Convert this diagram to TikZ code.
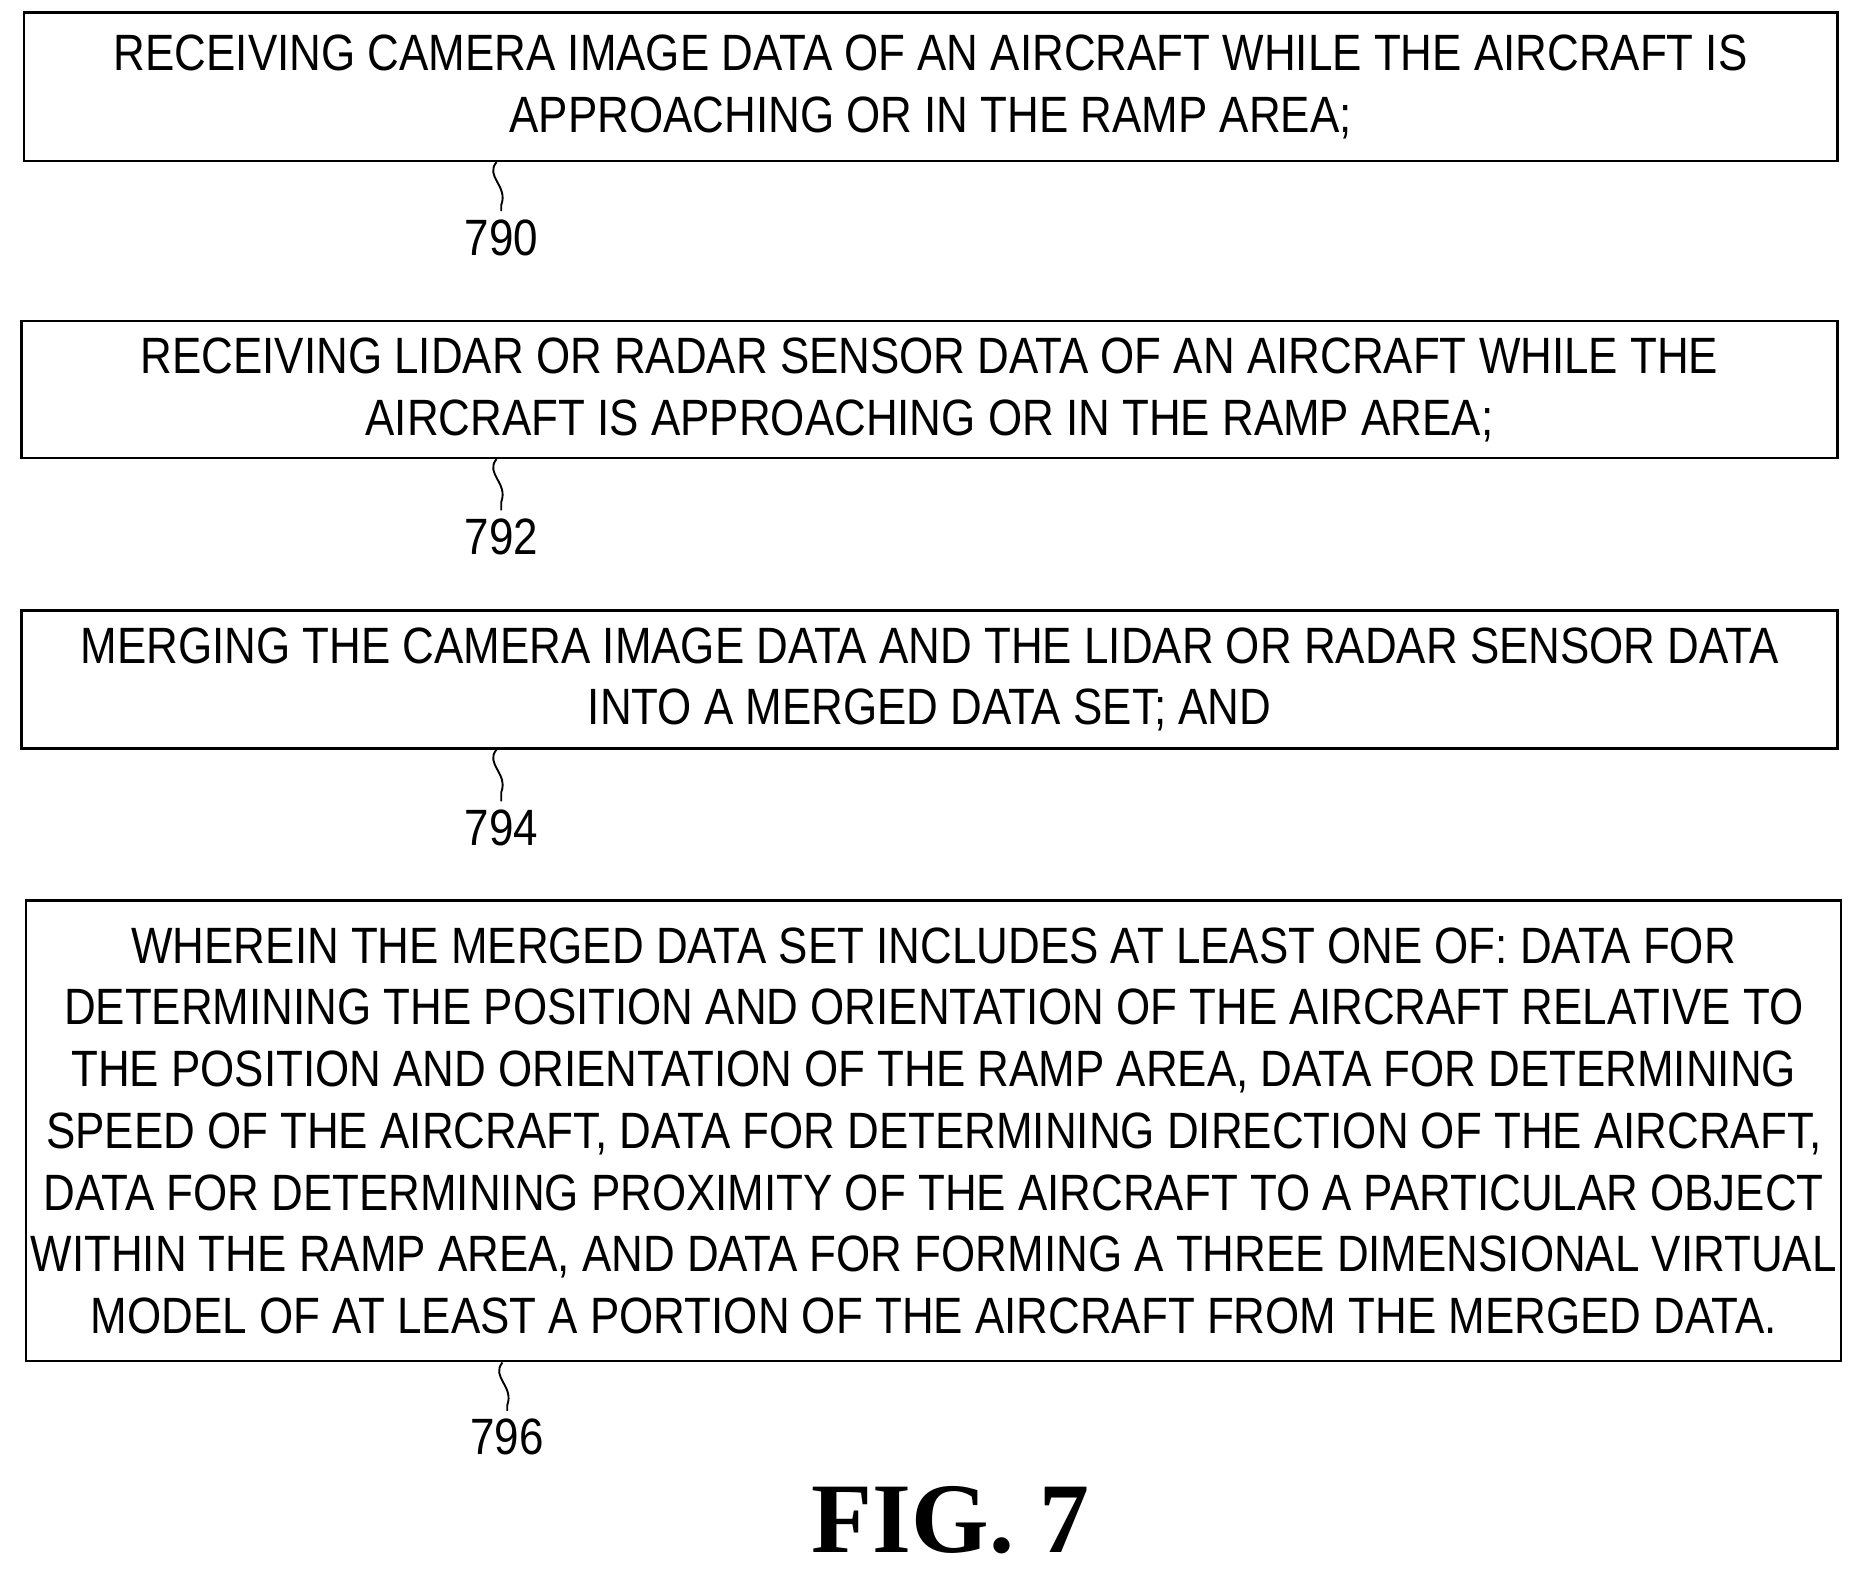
\documentclass[tikz,border=0pt]{standalone}
\usepackage{fontspec}
\setmainfont{Liberation Sans}[FakeStretch=0.86]
\newfontfamily\figfont{Liberation Serif}
\tikzset{
  stepbox/.style={draw,line width=1pt,inner sep=0pt,align=center,
    font=\fontsize{21.5}{26}\selectfont},
  reflabel/.style={font=\fontsize{21.5}{26}\selectfont},
  squig/.style={line width=0.8pt},
}
\begin{document}
\begin{tikzpicture}[x=0.5pt,y=-0.5pt]
  \useasboundingbox (0,0) rectangle (1565,1326);
  % steps
  \node[stepbox,minimum width=763.5pt,minimum height=62.5pt] (s790) at (783.5,73)
    {RECEIVING CAMERA IMAGE DATA OF AN AIRCRAFT WHILE THE AIRCRAFT IS\\
     APPROACHING OR IN THE RAMP AREA;};
  \node[stepbox,minimum width=764.5pt,minimum height=57.5pt] (s792) at (782.5,328)
    {RECEIVING LIDAR OR RADAR SENSOR DATA OF AN AIRCRAFT WHILE THE\\
     AIRCRAFT IS APPROACHING OR IN THE RAMP AREA;};
  \node[stepbox,minimum width=764.5pt,minimum height=58pt] (s794) at (782.5,572)
    {MERGING THE CAMERA IMAGE DATA AND THE LIDAR OR RADAR SENSOR DATA\\
     INTO A MERGED DATA SET; AND};
  \node[stepbox,minimum width=764pt,minimum height=194pt] (s796) at (786,952)
    {WHEREIN THE MERGED DATA SET INCLUDES AT LEAST ONE OF: DATA FOR\\
     DETERMINING THE POSITION AND ORIENTATION OF THE AIRCRAFT RELATIVE TO\\
     THE POSITION AND ORIENTATION OF THE RAMP AREA, DATA FOR DETERMINING\\
     SPEED OF THE AIRCRAFT, DATA FOR DETERMINING DIRECTION OF THE AIRCRAFT,\\
     DATA FOR DETERMINING PROXIMITY OF THE AIRCRAFT TO A PARTICULAR OBJECT\\
     WITHIN THE RAMP AREA, AND DATA FOR FORMING A THREE DIMENSIONAL VIRTUAL\\
     MODEL OF AT LEAST A PORTION OF THE AIRCRAFT FROM THE MERGED DATA.};
  % reference numerals
  \node[reflabel] (n790) at (422,200) {790};
  \node[reflabel] (n792) at (422,452) {792};
  \node[reflabel] (n794) at (422,697) {794};
  \node[reflabel] (n796) at (427,1210) {796};
  \foreach \s/\n in {s790/n790,s792/n792,s794/n794,s796/n796}{
    \coordinate (top) at ([xshift=-2pt]\n.north |- \s.south);
    \draw[squig] (top) .. controls ([xshift=-5pt,yshift=-6pt]top) and ([xshift=5pt,yshift=-10pt]top) .. ([xshift=2pt,yshift=-18pt]top) -- (\n.north);
  }
  \node[font=\figfont\bfseries\fontsize{42}{42}\selectfont] (fig) at (800,1280) {FIG. 7};
\end{tikzpicture}
\end{document}
